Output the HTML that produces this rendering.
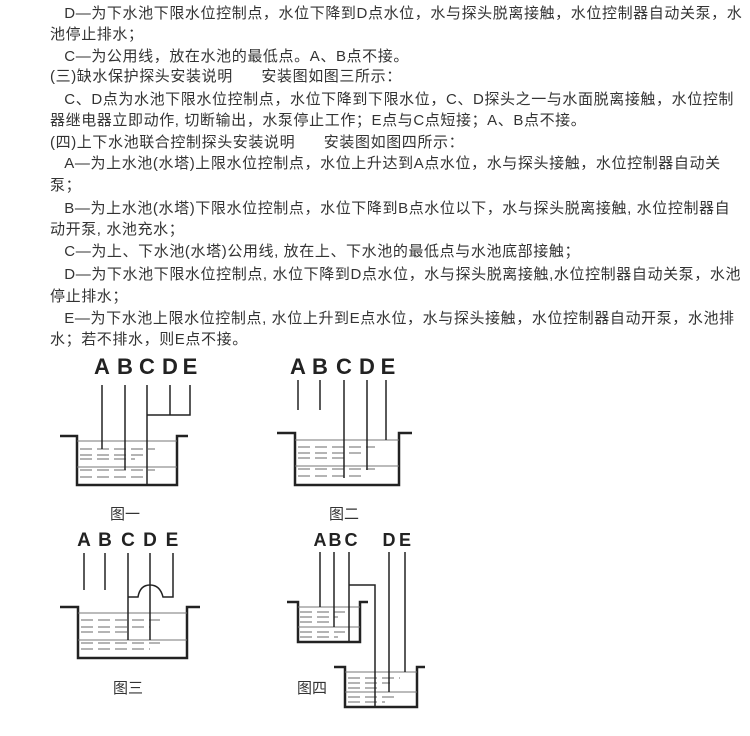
<!DOCTYPE html>
<html><head><meta charset="utf-8"><style>
body{margin:0;width:750px;height:736px;background:#fff;position:relative;overflow:hidden;font-family:"Liberation Sans","Noto Sans CJK SC",sans-serif;}
.t{position:absolute;left:50px;font-size:15px;letter-spacing:0.6px;color:#333;white-space:nowrap;line-height:20px;}
svg{position:absolute;left:0;top:0;}
</style></head><body>
<div class="t" style="top:4px">&nbsp;&nbsp;&nbsp;D—为下水池下限水位控制点，水位下降到D点水位，水与探头脱离接触，水位控制器自动关泵，水</div>
<div class="t" style="top:25px">池停止排水；</div>
<div class="t" style="top:47px">&nbsp;&nbsp;&nbsp;C—为公用线，放在水池的最低点。A、B点不接。</div>
<div class="t" style="top:67px">(三)缺水保护探头安装说明&nbsp;&nbsp;&nbsp;&nbsp;&nbsp;&nbsp;安装图如图三所示：</div>
<div class="t" style="top:90px">&nbsp;&nbsp;&nbsp;C、D点为水池下限水位控制点，水位下降到下限水位，C、D探头之一与水面脱离接触，水位控制</div>
<div class="t" style="top:111px">器继电器立即动作, 切断输出，水泵停止工作；E点与C点短接；A、B点不接。</div>
<div class="t" style="top:133px">(四)上下水池联合控制探头安装说明&nbsp;&nbsp;&nbsp;&nbsp;&nbsp;&nbsp;安装图如图四所示：</div>
<div class="t" style="top:154px">&nbsp;&nbsp;&nbsp;A—为上水池(水塔)上限水位控制点，水位上升达到A点水位，水与探头接触，水位控制器自动关</div>
<div class="t" style="top:176px">泵；</div>
<div class="t" style="top:199px">&nbsp;&nbsp;&nbsp;B—为上水池(水塔)下限水位控制点，水位下降到B点水位以下，水与探头脱离接触, 水位控制器自</div>
<div class="t" style="top:220px">动开泵, 水池充水；</div>
<div class="t" style="top:242px">&nbsp;&nbsp;&nbsp;C—为上、下水池(水塔)公用线, 放在上、下水池的最低点与水池底部接触；</div>
<div class="t" style="top:265px">&nbsp;&nbsp;&nbsp;D—为下水池下限水位控制点, 水位下降到D点水位，水与探头脱离接触,水位控制器自动关泵，水池</div>
<div class="t" style="top:287px">停止排水；</div>
<div class="t" style="top:309px">&nbsp;&nbsp;&nbsp;E—为下水池上限水位控制点, 水位上升到E点水位，水与探头接触，水位控制器自动开泵，水池排</div>
<div class="t" style="top:330px">水；若不排水，则E点不接。</div>

<svg width="750" height="736" viewBox="0 0 750 736">
<g font-family="Liberation Sans, sans-serif" font-weight="bold" font-size="22" fill="#222" text-anchor="middle">
<text x="102" y="374">A</text><text x="125" y="374">B</text><text x="147" y="374">C</text><text x="170" y="374">D</text><text x="190" y="374">E</text>
<text x="298" y="374">A</text><text x="320" y="374">B</text><text x="344" y="374">C</text><text x="367" y="374">D</text><text x="388" y="374">E</text>
<text x="84" y="546" font-size="19">A</text><text x="105" y="546" font-size="19">B</text><text x="128" y="546" font-size="19">C</text><text x="150" y="546" font-size="19">D</text><text x="172" y="546" font-size="19">E</text>
<text x="320" y="546" font-size="18">A</text><text x="335" y="546" font-size="18">B</text><text x="351" y="546" font-size="18">C</text><text x="389" y="546" font-size="18">D</text><text x="405" y="546" font-size="18">E</text>
</g>
<g font-family="Liberation Sans, Noto Sans CJK SC, sans-serif" font-size="15" fill="#333">
<text x="110" y="519">图一</text><text x="329" y="519">图二</text>
<text x="113" y="693">图三</text><text x="297" y="693">图四</text>
</g>
<g fill="none" stroke="#222">
<polyline stroke-width="2.5" points="60,436 77,436 77,485 177,485 177,436 188,436"/>
<polyline stroke-width="2.5" points="277,433 295,433 295,485 399,485 399,433 412,433"/>
<polyline stroke-width="2.5" points="60,607 78,607 78,658 187,658 187,607 200,607"/>
<polyline stroke-width="2.5" points="287,602 298,602 298,642 360,642 360,602 368,602"/>
<polyline stroke-width="2.5" points="334,667 345,667 345,707 417,707 417,667 425,667"/>
</g>
<g fill="none" stroke="#777" stroke-width="1">
<line x1="77" y1="441" x2="177" y2="441"/><line x1="77" y1="467" x2="177" y2="467"/>
<line x1="295" y1="440" x2="399" y2="440"/><line x1="295" y1="466" x2="399" y2="466"/>
<line x1="78" y1="613" x2="187" y2="613"/><line x1="78" y1="640" x2="187" y2="640"/>
<line x1="298" y1="607" x2="360" y2="607"/><line x1="298" y1="627" x2="360" y2="627"/>
<line x1="345" y1="672" x2="417" y2="672"/><line x1="345" y1="692" x2="417" y2="692"/>
</g>
<g fill="none" stroke="#888" stroke-width="1.3" stroke-dasharray="12,5">
<line x1="80" y1="449" x2="155" y2="449"/><line x1="80" y1="455" x2="145" y2="455"/><line x1="80" y1="459" x2="135" y2="459"/><line x1="80" y1="470" x2="155" y2="470"/><line x1="80" y1="477" x2="145" y2="477"/>
<line x1="298" y1="447" x2="375" y2="447"/><line x1="298" y1="453" x2="365" y2="453"/><line x1="298" y1="458" x2="345" y2="458"/><line x1="298" y1="469" x2="375" y2="469"/><line x1="298" y1="476" x2="365" y2="476"/>
<line x1="81" y1="620" x2="160" y2="620"/><line x1="81" y1="627" x2="150" y2="627"/><line x1="81" y1="632" x2="130" y2="632"/><line x1="81" y1="643" x2="160" y2="643"/><line x1="81" y1="649" x2="150" y2="649"/>
<line x1="300" y1="612" x2="345" y2="612"/><line x1="300" y1="617" x2="338" y2="617"/><line x1="300" y1="622" x2="330" y2="622"/><line x1="300" y1="632" x2="345" y2="632"/><line x1="300" y1="637" x2="338" y2="637"/>
<line x1="348" y1="678" x2="400" y2="678"/><line x1="348" y1="683" x2="390" y2="683"/><line x1="348" y1="688" x2="380" y2="688"/><line x1="348" y1="697" x2="395" y2="697"/><line x1="348" y1="702" x2="385" y2="702"/>
</g>
<g fill="none" stroke="#222" stroke-width="1.5">
<line x1="102" y1="385" x2="102" y2="449"/><line x1="125" y1="385" x2="125" y2="470"/><line x1="147" y1="385" x2="147" y2="485"/>
<polyline points="147,415 190,415 190,385"/><line x1="170" y1="385" x2="170" y2="415"/>
<line x1="298" y1="380" x2="298" y2="410"/><line x1="320" y1="380" x2="320" y2="410"/><line x1="344" y1="380" x2="344" y2="478"/><line x1="367" y1="380" x2="367" y2="470"/><line x1="386" y1="380" x2="386" y2="440"/>
<line x1="84" y1="553" x2="84" y2="590"/><line x1="105" y1="553" x2="105" y2="590"/><line x1="128" y1="553" x2="128" y2="640"/><line x1="150" y1="553" x2="150" y2="640"/>
<path d="M128,597 L138,597 Q140,585 150,585 Q160,585 163,597 L173,597 L173,553"/>
<line x1="320" y1="552" x2="320" y2="607"/><line x1="334" y1="552" x2="334" y2="627"/><line x1="349" y1="552" x2="349" y2="642"/>
<polyline points="349,585 375,585 375,707"/><line x1="389" y1="552" x2="389" y2="692"/><line x1="405" y1="552" x2="405" y2="672"/>
</g>
</svg>
</body></html>
